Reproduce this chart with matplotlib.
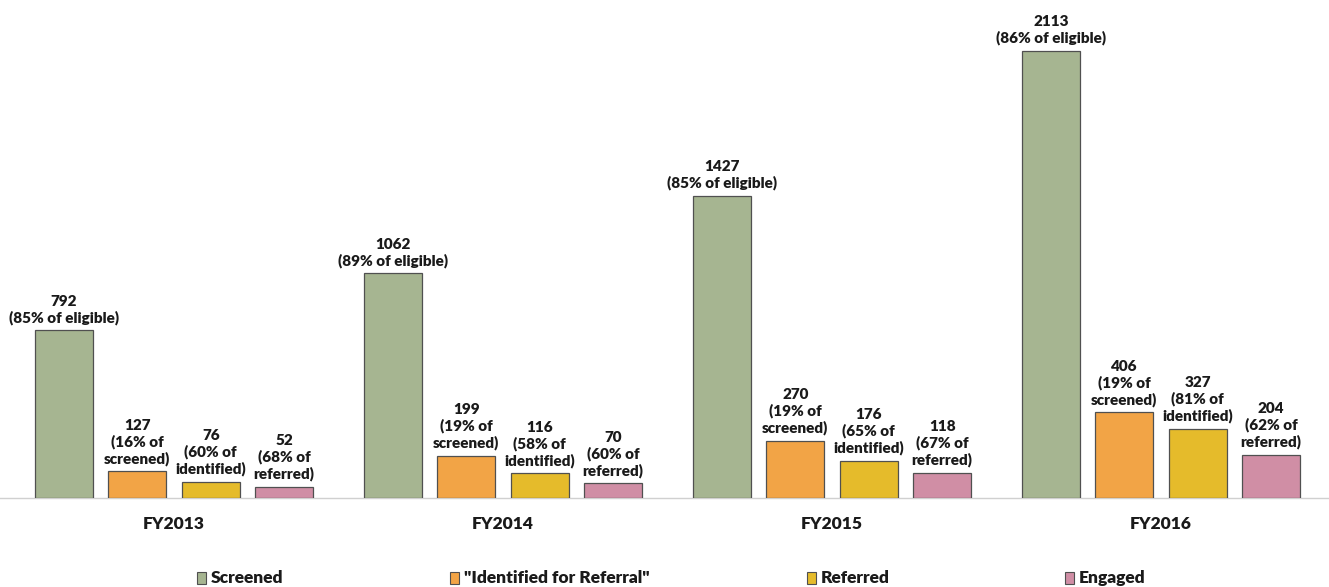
import matplotlib
matplotlib.use("Agg")
import matplotlib.pyplot as plt
from matplotlib.patches import Rectangle

plt.rcParams['font.family'] = ['Lato', 'DejaVu Sans']

years = ["FY2013", "FY2014", "FY2015", "FY2016"]
series = ["Screened", "\"Identified for Referral\"", "Referred", "Engaged"]
screened = [792, 1062, 1427, 2113]
identified = [127, 199, 270, 406]
referred = [76, 116, 176, 327]
engaged = [52, 70, 118, 204]
screened_pct = ["85% of eligible", "89% of eligible", "85% of eligible", "86% of eligible"]
identified_pct = ["16%", "19%", "19%", "19%"]
referred_pct = ["60%", "58%", "65%", "81%"]
engaged_pct = ["68%", "60%", "67%", "62%"]

colors = ["#A6B591", "#F2A446", "#E5BB2B", "#D08EA5"]

fig = plt.figure(figsize=(13.29, 5.87), dpi=100)
ax = fig.add_axes([0, 89/587, 1, 498/587])

values = [screened, identified, referred, engaged]
labels = [
    [f"{v}\n({p})" for v, p in zip(screened, screened_pct)],
    [f"{v}\n({p} of\nscreened)" for v, p in zip(identified, identified_pct)],
    [f"{v}\n({p} of\nidentified)" for v, p in zip(referred, referred_pct)],
    [f"{v}\n({p} of\nreferred)" for v, p in zip(engaged, engaged_pct)],
]
step = 0.2234
width = 0.176
x = list(range(len(years)))
for k, (vals, col, labs) in enumerate(zip(values, colors, labels)):
    off = (k - 1.5) * step
    xs = [xi + off for xi in x]
    ax.bar(xs, vals, width=width, color=col, edgecolor="#505050", linewidth=0.9, zorder=3)
    for xi, v, lab in zip(xs, vals, labs):
        ax.annotate(lab, (xi, v), xytext=(0, 4), textcoords="offset points",
                    ha="center", va="bottom", fontsize=11, fontweight="heavy",
                    color="#1a1a1a", multialignment="center", linespacing=1.2)

ax.set_xlim(-174/329, (1329-174)/329)
ax.set_ylim(0, 498/0.2116)
for s in ["top", "left", "right"]:
    ax.spines[s].set_visible(False)
ax.spines["bottom"].set_color("#d0d0d0")
ax.spines["bottom"].set_linewidth(1.0)
ax.set_yticks([])
ax.set_xticks(x)
ax.set_xticklabels(years, fontsize=12.5, fontweight="heavy", color="#1a1a1a")
ax.tick_params(axis="x", length=0, pad=13)

leg_x = [197, 450, 807, 1065]
for lx, name, col in zip(leg_x, series, colors):
    fig.patches.append(Rectangle((lx/1329, (587-584)/587), 9/1329, 12/587,
                                 transform=fig.transFigure, facecolor=col,
                                 edgecolor="#505050", linewidth=0.8))
    fig.text((lx + 14)/1329, (587-578)/587, name, fontsize=12.5, fontweight="heavy",
             color="#1a1a1a", va="center", ha="left")

fig.savefig("out.png", dpi=100)
